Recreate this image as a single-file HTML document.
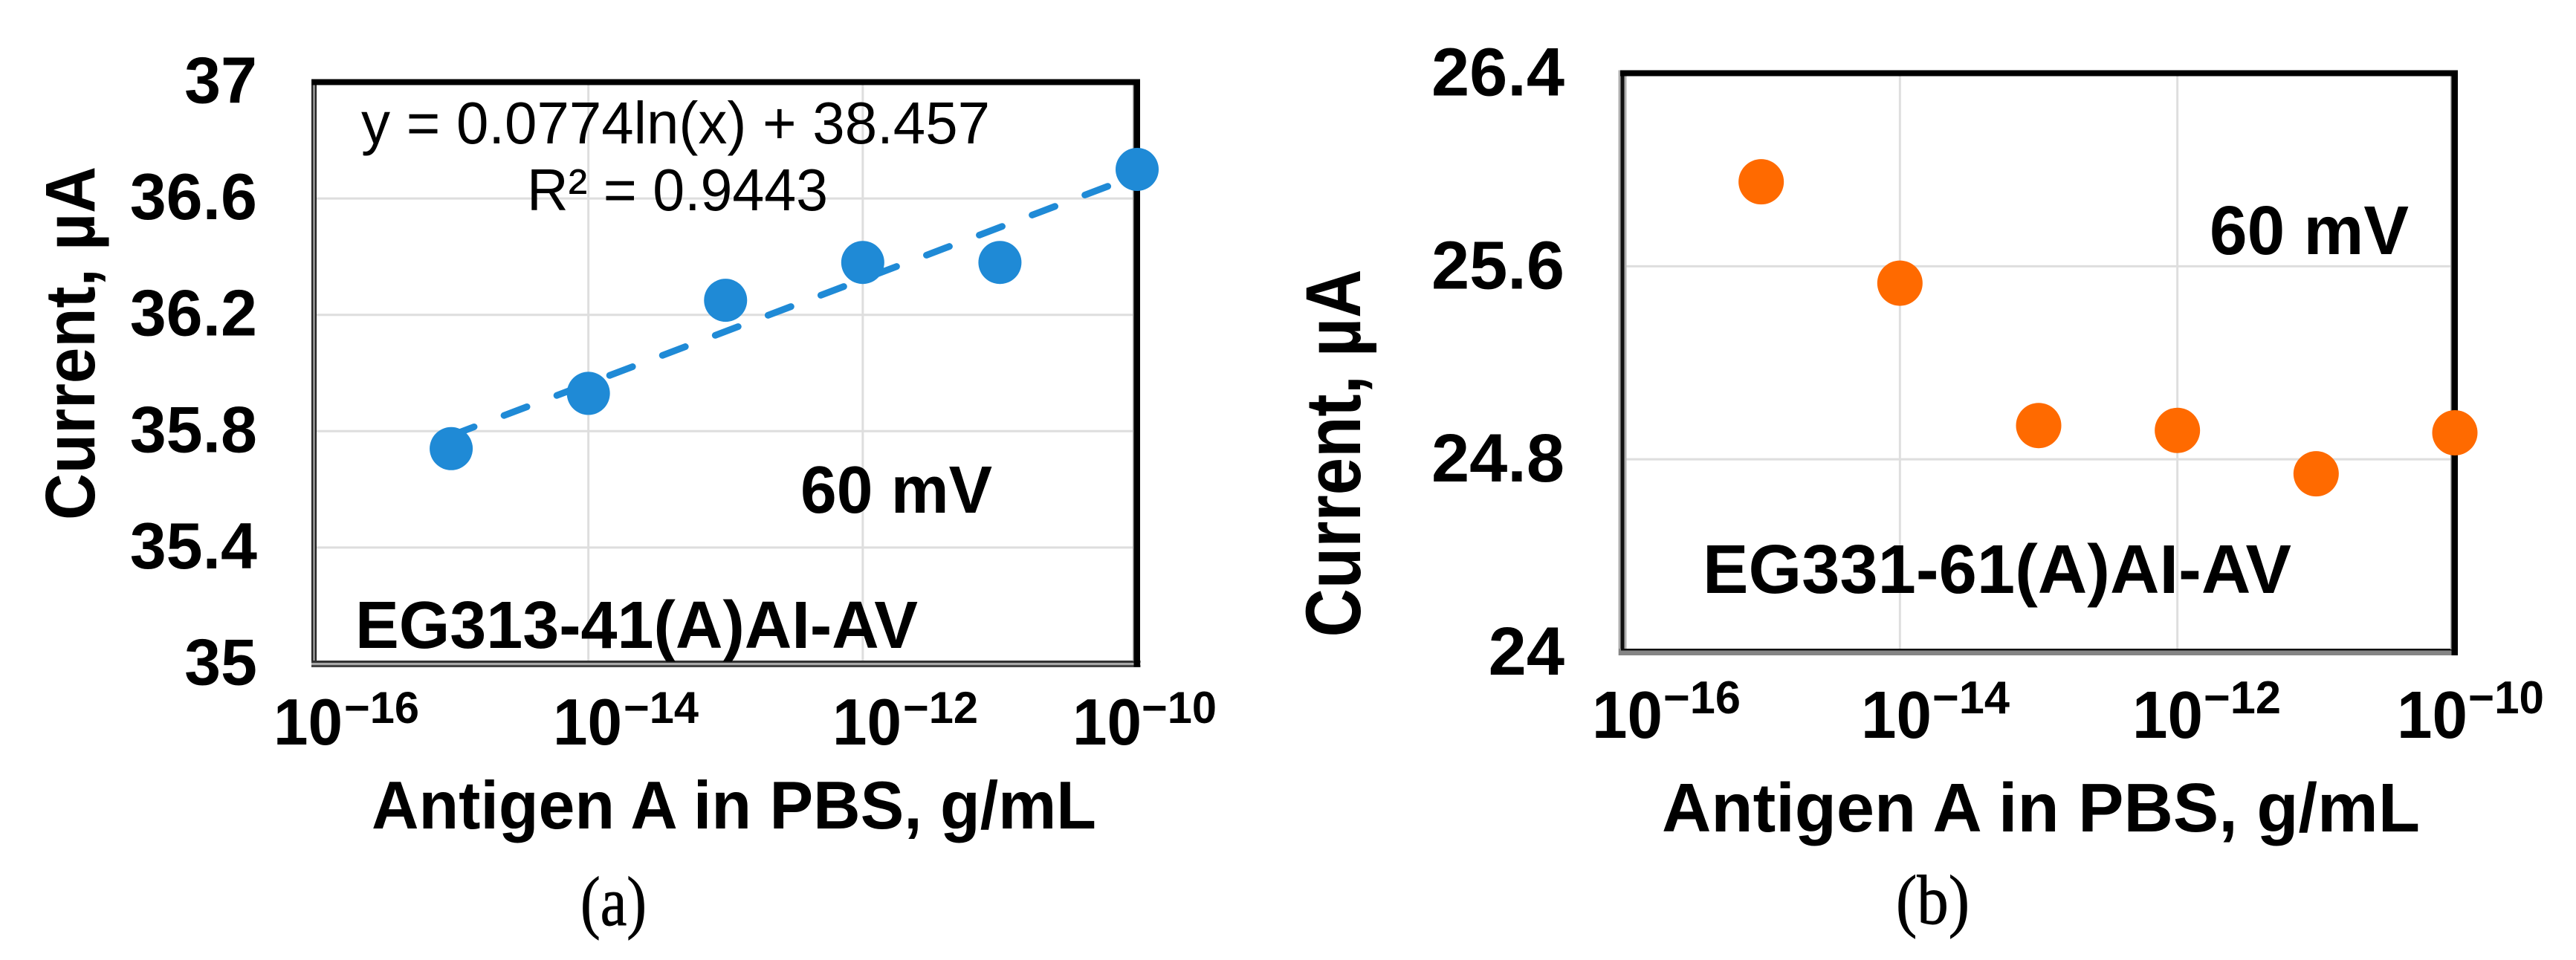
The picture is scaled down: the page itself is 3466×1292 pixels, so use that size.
<!DOCTYPE html>
<html lang="en">
<head>
<meta charset="utf-8">
<title>Current vs Antigen A concentration</title>
<style>
html,body{margin:0;padding:0;background:#fff;width:3466px;height:1292px;overflow:hidden}
svg{display:block}
text{font-family:"Liberation Sans",sans-serif;fill:#000}
.b{font-weight:700}
.serif{font-family:"Liberation Serif",serif;stroke:#000;stroke-width:.9}
</style>
</head>
<body>
<svg id="figure" width="3466" height="1292" viewBox="0 0 3466 1292" xmlns="http://www.w3.org/2000/svg">
  <rect width="3466" height="1292" fill="#fff"/>

  <g id="chart-a"></g>
  <g>
    <text class="b" font-size="88" text-anchor="middle" textLength="476" lengthAdjust="spacingAndGlyphs" transform="translate(127,462) rotate(-90) scale(1,1.08)">Current, µA</text>
    <text class="b" font-size="91" x="500" y="1115" textLength="975" lengthAdjust="spacingAndGlyphs">Antigen A in PBS, g/mL</text>
    <text font-size="80" x="486" y="193" textLength="846" lengthAdjust="spacingAndGlyphs">y = 0.0774ln(x) + 38.457</text>
    <text font-size="80" x="709" y="283" textLength="405" lengthAdjust="spacingAndGlyphs">R² = 0.9443</text>
    <text class="b" font-size="90" x="1077" y="690" textLength="258" lengthAdjust="spacingAndGlyphs">60 mV</text>
    <text class="b" font-size="90" x="478" y="872" textLength="757" lengthAdjust="spacingAndGlyphs">EG313-41(A)AI-AV</text>
    <g><text class="b" font-size="88" x="368" y="1002" textLength="93" lengthAdjust="spacingAndGlyphs">10</text><text class="b" font-size="60" x="463" y="973" textLength="101" lengthAdjust="spacingAndGlyphs">−16</text></g>
    <g><text class="b" font-size="88" x="744" y="1002" textLength="93" lengthAdjust="spacingAndGlyphs">10</text><text class="b" font-size="60" x="839" y="973" textLength="101" lengthAdjust="spacingAndGlyphs">−14</text></g>
    <g><text class="b" font-size="88" x="1120" y="1002" textLength="93" lengthAdjust="spacingAndGlyphs">10</text><text class="b" font-size="60" x="1215" y="973" textLength="101" lengthAdjust="spacingAndGlyphs">−12</text></g>
    <g><text class="b" font-size="88" x="1443" y="1002" textLength="93" lengthAdjust="spacingAndGlyphs">10</text><text class="b" font-size="60" x="1536" y="973" textLength="101" lengthAdjust="spacingAndGlyphs">−10</text></g>
    <text class="serif" font-size="94" x="781" y="1245" textLength="89" lengthAdjust="spacingAndGlyphs">(a)</text>
  </g>

  <g id="chart-b"></g>
  <g>
    <text class="b" font-size="92" text-anchor="middle" textLength="495" lengthAdjust="spacingAndGlyphs" transform="translate(1830,610) rotate(-90) scale(1,1.14)">Current, µA</text>
    <text class="b" font-size="93" x="2236" y="1119" textLength="1020" lengthAdjust="spacingAndGlyphs">Antigen A in PBS, g/mL</text>
    <text class="b" font-size="93" x="2973" y="342" textLength="268" lengthAdjust="spacingAndGlyphs">60 mV</text>
    <text class="b" font-size="93" x="2291" y="798" textLength="792" lengthAdjust="spacingAndGlyphs">EG331-61(A)AI-AV</text>
    <g><text class="b" font-size="90" x="2142" y="993" textLength="95" lengthAdjust="spacingAndGlyphs">10</text><text class="b" font-size="62" x="2238" y="960" textLength="104" lengthAdjust="spacingAndGlyphs">−16</text></g>
    <g><text class="b" font-size="90" x="2504" y="993" textLength="95" lengthAdjust="spacingAndGlyphs">10</text><text class="b" font-size="62" x="2600" y="960" textLength="104" lengthAdjust="spacingAndGlyphs">−14</text></g>
    <text class="serif" font-size="94" x="2551" y="1243" textLength="99" lengthAdjust="spacingAndGlyphs">(b)</text>
    <g><text class="b" font-size="90" x="2869" y="993" textLength="95" lengthAdjust="spacingAndGlyphs">10</text><text class="b" font-size="62" x="2965" y="960" textLength="104" lengthAdjust="spacingAndGlyphs">−12</text></g>
    <g><text class="b" font-size="90" x="3225" y="993" textLength="95" lengthAdjust="spacingAndGlyphs">10</text><text class="b" font-size="62" x="3321" y="960" textLength="102" lengthAdjust="spacingAndGlyphs">−10</text></g>
  </g>
</svg>
<script>
// ---- Panel (a) data ----
const concentrationsA = [1e-15, 1e-14, 1e-13, 1e-12, 1e-11, 1e-10];
const currentsA = [35.74, 35.93, 36.25, 36.38, 36.38, 36.70];
const trendConcentrationsA = [1e-15, 1e-10];
const trendCurrentsA = [35.785, 36.68];
const yTicksA = [35, 35.4, 35.8, 36.2, 36.6, 37];
const yTickLabelsA = ['35', '35.4', '35.8', '36.2', '36.6', '37'];
const xTicksA = [1e-16, 1e-14, 1e-12, 1e-10];

// ---- Panel (b) data ----
const concentrationsB = [1e-15, 1e-14, 1e-13, 1e-12, 1e-11, 1e-10];
const currentsB = [25.95, 25.53, 24.94, 24.92, 24.74, 24.91];
const yTicksB = [24, 24.8, 25.6, 26.4];
const yTickLabelsB = ['24', '24.8', '25.6', '26.4'];
const xTicksB = [1e-16, 1e-14, 1e-12, 1e-10];

const SVGNS = 'http://www.w3.org/2000/svg';

function logScale(d0, d1, r0, r1) {
  return function (v) {
    return r0 + (Math.log10(v) - Math.log10(d0)) / (Math.log10(d1) - Math.log10(d0)) * (r1 - r0);
  };
}
function linearScale(d0, d1, r0, r1) {
  return function (v) {
    return r0 + (v - d0) / (d1 - d0) * (r1 - r0);
  };
}
function create(parent, tag, attrs) {
  const el = document.createElementNS(SVGNS, tag);
  Object.keys(attrs).forEach(function (k) { el.setAttribute(k, attrs[k]); });
  parent.appendChild(el);
  return el;
}

function drawGrid(g, box, x, y, xTicks, yTicks) {
  xTicks.forEach(function (t) {
    const line = create(g, 'line', {x1: x(t), x2: x(t), y1: box.top, y2: box.bottom, stroke: '#dedede', 'stroke-width': 3});
    
    
  });
  yTicks.forEach(function (t) {
    const line = create(g, 'line', {x1: box.left, x2: box.right, y1: y(t), y2: y(t), stroke: '#dedede', 'stroke-width': 3});
    
    
  });
}

function drawFrame(g, box, variant) {
  const frame = create(g, 'g', {});
  
  
  const L = box.left, R = box.right, T = box.top, B = box.bottom;
  // left edge
  if (variant === 'a') {
    create(frame, 'rect', {x: L - 3.5, y: T - 4, width: 7, height: B - T + 8, fill: '#8a8a8a'});
    create(frame, 'rect', {x: L - 3.5, y: T - 4, width: 2, height: B - T + 8, fill: '#222'});
    create(frame, 'rect', {x: L + 1.5, y: T - 4, width: 2, height: B - T + 8, fill: '#222'});
    create(frame, 'rect', {x: L - 3.5, y: B - 4.5, width: R - L + 8, height: 9, fill: '#a8a8a8'});
    create(frame, 'rect', {x: L - 3.5, y: B - 4.5, width: R - L + 8, height: 3, fill: '#333'});
    create(frame, 'rect', {x: L - 3.5, y: B + 1.5, width: R - L + 8, height: 3, fill: '#444'});
  } else {
    create(frame, 'rect', {x: L - 5.5, y: T - 4, width: 11, height: B - T + 8, fill: '#b0b0b0'});
    create(frame, 'rect', {x: L - 2.5, y: T - 4, width: 5, height: B - T + 8, fill: '#111'});
    create(frame, 'rect', {x: L - 5, y: B - 5, width: R - L + 8, height: 9, fill: '#858585'});
    create(frame, 'rect', {x: L - 2, y: B - 5, width: R - L + 4, height: 2.5, fill: '#111'});
  }
  // top and right edges
  create(frame, 'rect', {x: L - 3, y: T - 4, width: R - L + 7, height: 8, fill: '#000'});
  create(frame, 'rect', {x: R - 4.5, y: T - 4, width: 8.5, height: B - T + 8, fill: '#000'});
  create(frame, 'rect', {x: R - 6, y: T + 4, width: 1.5, height: B - T - 8, fill: '#aaa'});
}

function drawYTickLabels(g, y, ticks, labels, anchorX, size, drop) {
  ticks.forEach(function (t, i) {
    const label = create(g, 'text', {x: anchorX, y: y(t) + drop, 'text-anchor': 'end', 'font-size': size, 'font-weight': 700});
    
    
    label.textContent = labels[i];
  });
}

function drawPoints(g, x, y, xs, ys, r, color) {
  xs.forEach(function (xv, i) {
    const dot = create(g, 'circle', {cx: x(xv), cy: y(ys[i]), r: r, fill: color});
    
    
  });
}

// ---- Draw panel (a) ----
(function () {
  const g = document.getElementById('chart-a');
  const box = {left: 422.5, right: 1530, top: 110.5, bottom: 893.5};
  const x = logScale(1e-16, 1e-10, box.left, box.right);
  const y = linearScale(35, 37, box.bottom, box.top);
  drawGrid(g, box, x, y, xTicksA.slice(1, -1), yTicksA.slice(1, -1));
  drawFrame(g, box, 'a');
  drawYTickLabels(g, y, yTicksA, yTickLabelsA, 346, 88, 28);
  const trend = create(g, 'line', {
    x1: x(trendConcentrationsA[0]), y1: y(trendCurrentsA[0]),
    x2: x(trendConcentrationsA[1]), y2: y(trendCurrentsA[1]),
    stroke: '#1f8ad6', 'stroke-width': 9, 'stroke-linecap': 'round', 'stroke-dasharray': '33 43'
  });
  
  
  drawPoints(g, x, y, concentrationsA, currentsA, 29, '#1f8ad6');
})();

// ---- Draw panel (b) ----
(function () {
  const g = document.getElementById('chart-b');
  const box = {left: 2183, right: 3303, top: 98.5, bottom: 878};
  const x = logScale(1e-16, 1e-10, box.left, box.right);
  const y = linearScale(24, 26.4, box.bottom, box.top);
  drawGrid(g, box, x, y, xTicksB.slice(1, -1), yTicksB.slice(1, -1));
  drawFrame(g, box, 'b');
  drawYTickLabels(g, y, yTicksB, yTickLabelsB, 2105, 92, 30);
  drawPoints(g, x, y, concentrationsB, currentsB, 30.5, '#ff6a00');
})();
</script>
</body>
</html>
